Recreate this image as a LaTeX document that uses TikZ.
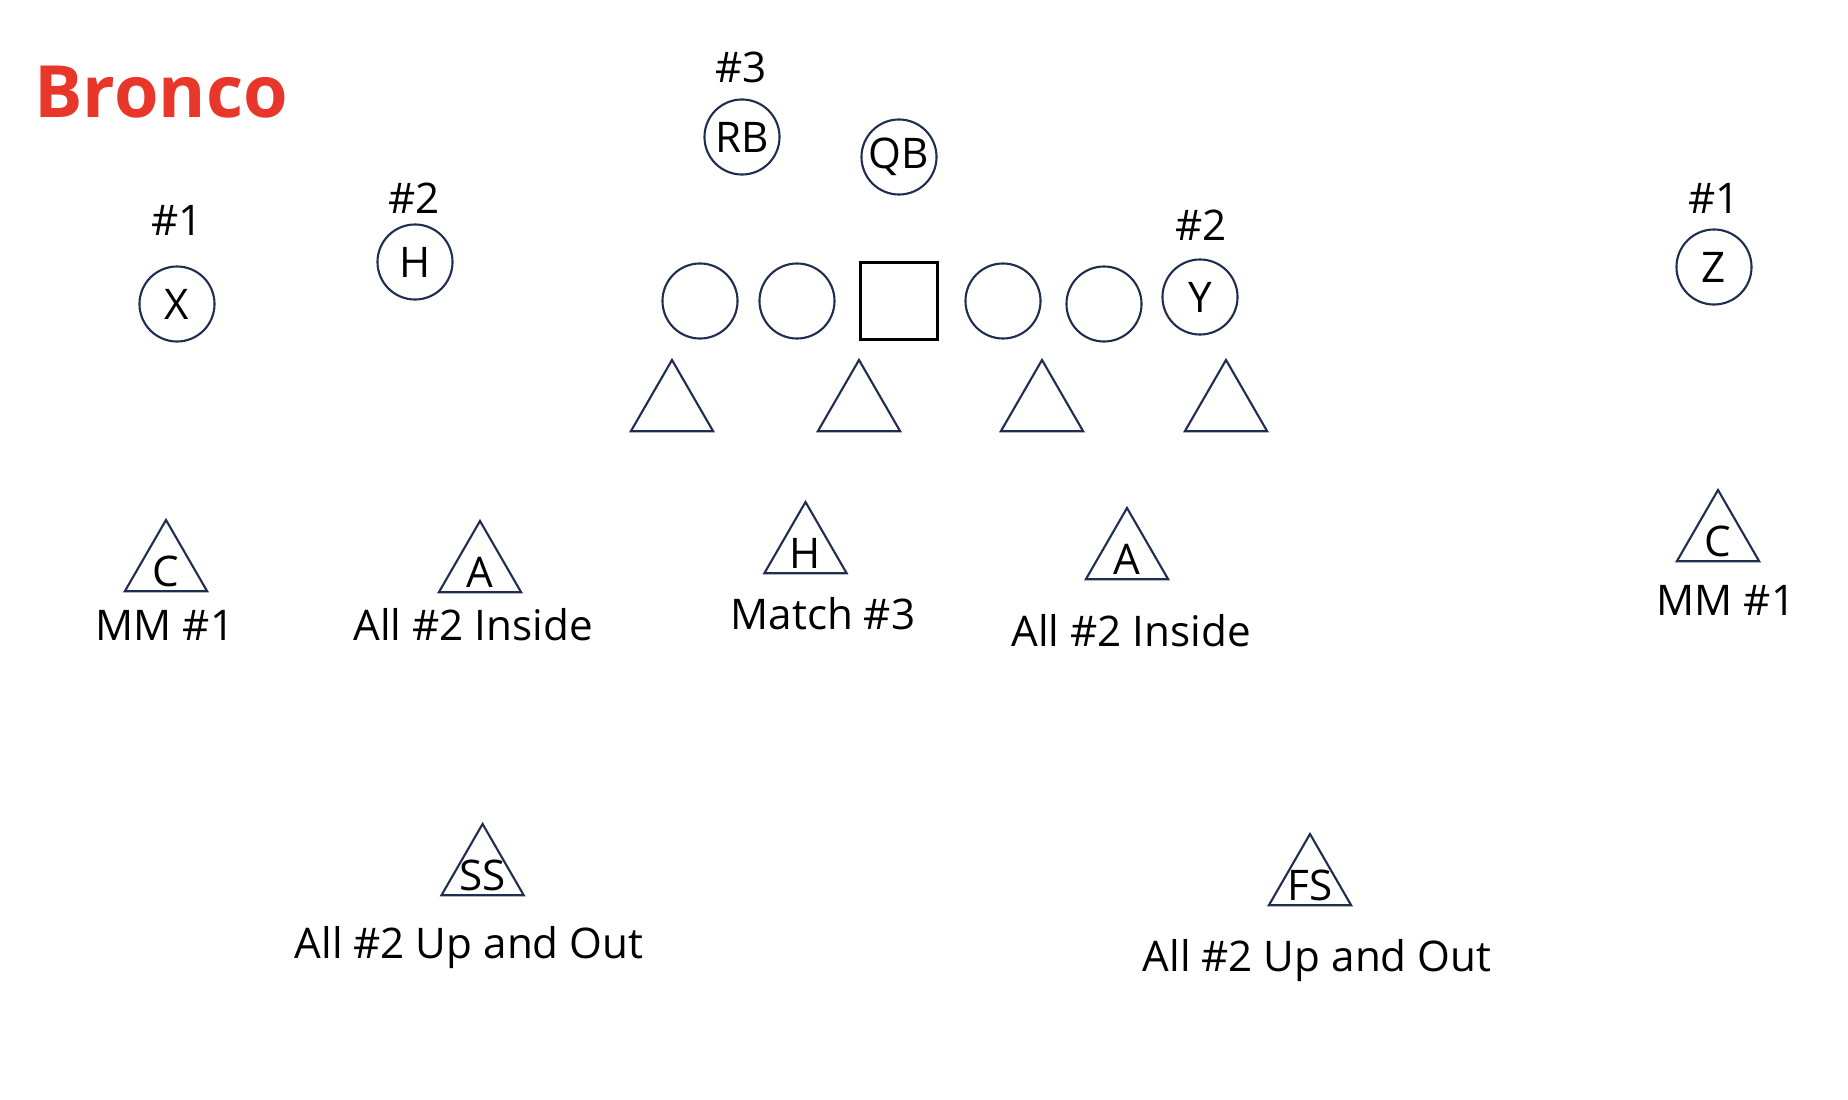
\documentclass[tikz,border=0pt]{standalone}
\usepackage{fontspec}
\setmainfont{Open Sans}
\usetikzlibrary{shapes.geometric}
\definecolor{navy}{RGB}{31,45,80}
\definecolor{broncored}{RGB}{232,55,42}

\begin{document}
\begin{tikzpicture}[x=0.01cm,y=-0.01cm,
  txt/.style={font=\fontsize{12}{14}\selectfont},
  man/.style={circle,draw=navy,line width=0.6pt,minimum size=0.75cm,inner sep=0pt,txt},
  snap/.style={draw=black,line width=0.85pt,minimum size=0.76cm,inner sep=0pt},
  def/.style={regular polygon,regular polygon sides=3,draw=navy,line width=0.6pt,
    minimum size=0.95cm,inner sep=0pt},
  letter/.style={txt,yshift=-1.1pt},
  tag/.style={anchor=base,txt}]
  \useasboundingbox (0,0) rectangle (1848,1100);

  \node[anchor=base west,text=broncored,font=\fontsize{20.5}{24}\selectfont\bfseries]
    (title) at (22,117) {Bronco};

  % offense
  \node[man] (x) at (177,304) {X};
  \node[tag] (xnum) at (177,235) {\#1};
  \node[man] (h) at (415,262) {H};
  \node[tag] (hnum) at (414,213) {\#2};
  \node[man] (rb) at (742,137) {RB};
  \node[tag] (rbnum) at (741,82) {\#3};
  \node[man] (qb) at (899,157) {QB};

  \foreach \x/\n in {700/lt,797/lg,1003/rg}
    \node[man] (\n) at (\x,301) {};
  \node[man] (rt) at (1104,304) {};
  \node[snap] (c) at (899,301) {};
  \node[man] (y) at (1200,297) {Y};
  \node[tag] (ynum) at (1201,240) {\#2};
  \node[man] (z) at (1714,267) {Z};
  \node[tag] (znum) at (1714,213) {\#1};

  % defense
  \foreach \x/\n in {672/dl1,859/dl2,1042/dl3,1226/dl4}
    \node[def] (\n) at (\x,407.5) {};

  \node[def,label={[letter]center:C}] (cl) at (166,567.5) {};
  \node[tag] (cltag) at (165,640) {MM \#1};
  \node[def,label={[letter]center:A}] (al) at (480,568.5) {};
  \node[tag] (altag) at (473,640) {All \#2 Inside};
  \node[def,label={[letter]center:H}] (hk) at (805.5,549.5) {};
  \node[tag] (hktag) at (823,629) {Match \#3};
  \node[def,label={[letter]center:A}] (ar) at (1127,555.5) {};
  \node[tag] (artag) at (1131,646) {All \#2 Inside};
  \node[def,label={[letter]center:C}] (cr) at (1718,537.5) {};
  \node[tag] (crtag) at (1726,615) {MM \#1};

  \node[def,label={[letter]center:SS}] (ss) at (482.6,871.5) {};
  \node[tag] (sstag) at (469,958) {All \#2 Up and Out};
  \node[def,label={[letter]center:FS}] (fs) at (1310,881.5) {};
  \node[tag] (fstag) at (1317,971) {All \#2 Up and Out};
\end{tikzpicture}
\end{document}
